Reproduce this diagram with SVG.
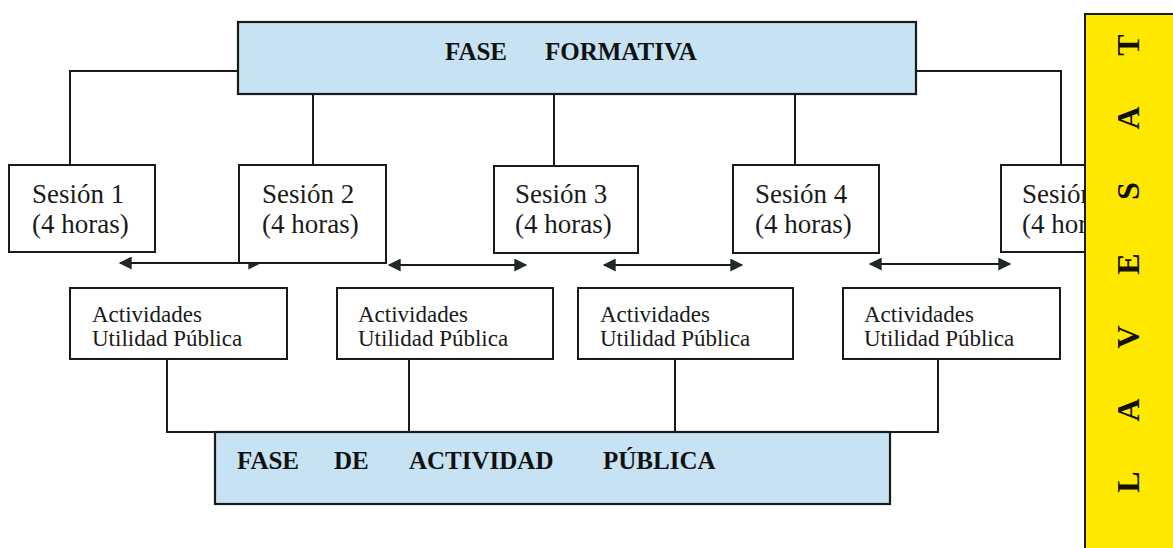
<svg xmlns="http://www.w3.org/2000/svg" width="1173" height="548" viewBox="0 0 1173 548">
<defs>
<style>
.bx{fill:#ffffff;stroke:#1a1a1a;stroke-width:2}
.ph{fill:#c6e2f3;stroke:#1a1a1a;stroke-width:2.2}
.ln{fill:none;stroke:#1a1a1a;stroke-width:2}
.ar{fill:none;stroke:#1a1a1a;stroke-width:2;marker-start:url(#ah);marker-end:url(#ah)}
.ses{font-family:"Liberation Serif","Times New Roman",serif;font-size:27px;fill:#1a1a1a}
.act{font-family:"Liberation Serif","Times New Roman",serif;font-size:23px;fill:#1a1a1a}
.hd{font-family:"Liberation Serif","Times New Roman",serif;font-size:25px;font-weight:bold;fill:#111}
.ev{font-family:"Liberation Serif","Times New Roman",serif;font-size:32px;font-weight:bold;fill:#111}
</style>
<marker id="ah" viewBox="0 0 10 10" refX="9" refY="5" markerWidth="7.5" markerHeight="6.5" markerUnits="strokeWidth" orient="auto-start-reverse">
<path d="M0,0 L10,5 L0,10 z" fill="#1f2a22"/>
</marker>
</defs>
<rect width="1173" height="548" fill="#ffffff"/>

<g id="connectors">
<polyline class="ln" points="238,71 70,71 70,165"/>
<polyline class="ln" points="916,71 1061,71 1061,165"/>
<line class="ln" x1="313" y1="94" x2="313" y2="165"/>
<line class="ln" x1="554" y1="94" x2="554" y2="165"/>
<line class="ln" x1="795" y1="94" x2="795" y2="165"/>
<line class="ar" x1="120" y1="263" x2="260" y2="263"/>
<line class="ar" x1="389" y1="265" x2="526" y2="265"/>
<line class="ar" x1="604" y1="265" x2="742" y2="265"/>
<line class="ar" x1="870" y1="264" x2="1010" y2="264"/>
<polyline class="ln" points="167,358 167,432 215,432"/>
<polyline class="ln" points="938,358 938,432 890,432"/>
<line class="ln" x1="409" y1="358" x2="409" y2="432"/>
<line class="ln" x1="675" y1="358" x2="675" y2="432"/>
</g>

<g id="fase-formativa">
<rect class="ph" x="238" y="22" width="678" height="72"/>
<text class="hd" x="445" y="60">FASE</text>
<text class="hd" x="545" y="60">FORMATIVA</text>
</g>

<g id="sesion1">
<rect class="bx" x="9" y="165" width="146" height="87"/>
<text class="ses" x="32" y="203">Sesión 1</text>
<text class="ses" x="32" y="233">(4 horas)</text>
</g>
<g id="sesion2">
<rect class="bx" x="239" y="165" width="147" height="98"/>
<text class="ses" x="262" y="203">Sesión 2</text>
<text class="ses" x="262" y="233">(4 horas)</text>
</g>
<g id="sesion3">
<rect class="bx" x="494" y="166" width="144" height="87"/>
<text class="ses" x="515" y="203">Sesión 3</text>
<text class="ses" x="515" y="233">(4 horas)</text>
</g>
<g id="sesion4">
<rect class="bx" x="733" y="165" width="146" height="88"/>
<text class="ses" x="755" y="203">Sesión 4</text>
<text class="ses" x="755" y="233">(4 horas)</text>
</g>
<g id="sesion5">
<rect class="bx" x="1001" y="165" width="146" height="87"/>
<text class="ses" x="1022" y="203">Sesión 5</text>
<text class="ses" x="1022" y="233">(4 horas)</text>
</g>

<g id="actividades1">
<rect class="bx" x="70" y="288" width="217" height="71"/>
<text class="act" x="92" y="322">Actividades</text>
<text class="act" x="92" y="346">Utilidad Pública</text>
</g>
<g id="actividades2">
<rect class="bx" x="337" y="288" width="216" height="71"/>
<text class="act" x="358" y="322">Actividades</text>
<text class="act" x="358" y="346">Utilidad Pública</text>
</g>
<g id="actividades3">
<rect class="bx" x="578" y="288" width="215" height="71"/>
<text class="act" x="600" y="322">Actividades</text>
<text class="act" x="600" y="346">Utilidad Pública</text>
</g>
<g id="actividades4">
<rect class="bx" x="843" y="288" width="217" height="71"/>
<text class="act" x="864" y="322">Actividades</text>
<text class="act" x="864" y="346">Utilidad Pública</text>
</g>

<g id="fase-actividad-publica">
<rect class="ph" x="215" y="432" width="675" height="72"/>
<text class="hd" x="237" y="469">FASE</text>
<text class="hd" x="334" y="469">DE</text>
<text class="hd" x="409" y="469">ACTIVIDAD</text>
<text class="hd" x="603" y="469">PÚBLICA</text>
</g>

<g id="fase-evaluacion">
<rect x="1085" y="14" width="100" height="545" fill="#ffe800" stroke="#1a1a1a" stroke-width="2"/>
<text class="ev" text-anchor="middle" dominant-baseline="central" transform="translate(1128,45) rotate(-90)">T</text>
<text class="ev" text-anchor="middle" dominant-baseline="central" transform="translate(1128,118) rotate(-90)">A</text>
<text class="ev" text-anchor="middle" dominant-baseline="central" transform="translate(1128,191) rotate(-90)">S</text>
<text class="ev" text-anchor="middle" dominant-baseline="central" transform="translate(1128,264) rotate(-90)">E</text>
<text class="ev" text-anchor="middle" dominant-baseline="central" transform="translate(1128,337) rotate(-90)">V</text>
<text class="ev" text-anchor="middle" dominant-baseline="central" transform="translate(1128,410) rotate(-90)">A</text>
<text class="ev" text-anchor="middle" dominant-baseline="central" transform="translate(1128,482) rotate(-90)">L</text>
</g>
</svg>
